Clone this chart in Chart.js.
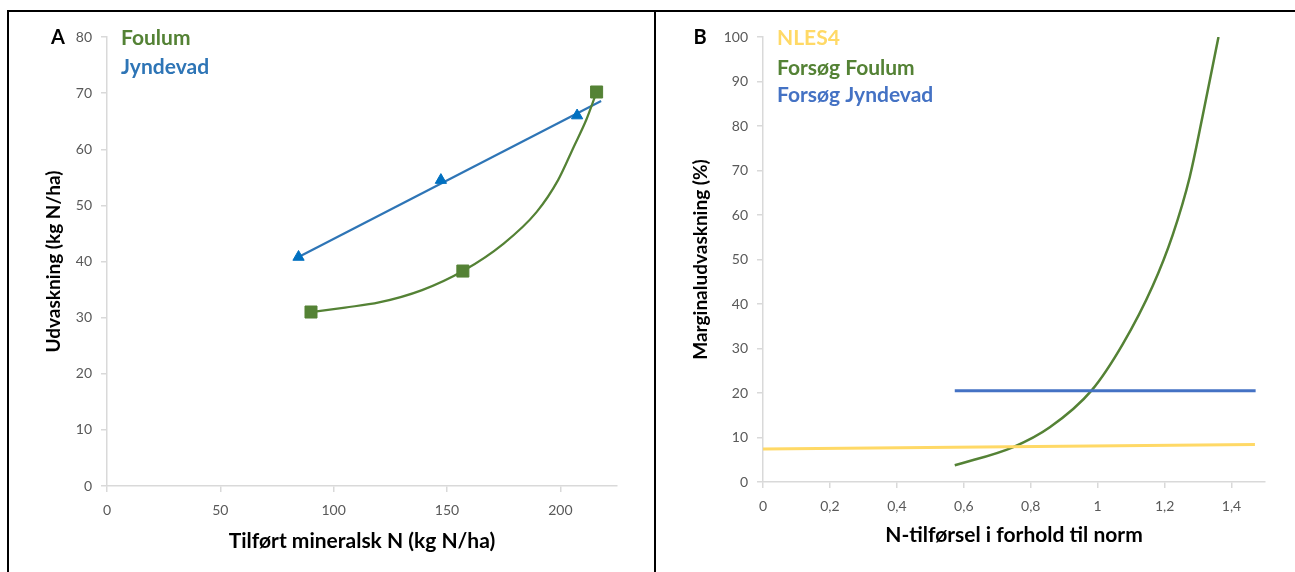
<!DOCTYPE html>
<html>
<head>
<meta charset="utf-8">
<script src="https://cdn.jsdelivr.net/npm/chart.js@4"></script>
<style>
  body { margin: 0; background: #fff; width: 1295px; height: 572px; overflow: hidden; position: relative; }
  .line { position: absolute; background: #000; }
  canvas { position: absolute; }
</style>
</head>
<body>
<div class="line" style="left:7px; top:10px; width:1288px; height:2px;"></div>
<div class="line" style="left:7px; top:10px; width:2px; height:562px;"></div>
<div class="line" style="left:654px; top:10px; width:2px; height:562px;"></div>
<canvas id="chartA" width="645" height="560" style="left:9px; top:12px;"></canvas>
<canvas id="chartB" width="639" height="560" style="left:656px; top:12px;"></canvas>
<script>
// panel A - udvaskning vs tilført N
var foulumX = [90, 157, 216];
var foulumY = [31.0, 38.3, 70.2];
// smoothed Foulum curve
var foulumCurveX = [90, 105, 120, 139, 157, 175, 189.5, 199, 206, 211.5, 216];
var foulumCurveY = [31.0, 31.8, 32.7, 34.9, 38.3, 43.2, 48.8, 54.5, 60.5, 65.3, 70.2];
var jyndevadX = [84.5, 147.3, 207.4];
var jyndevadY = [40.8, 54.5, 66.0];
var jyndevadTrendX = [84.5, 218];
var jyndevadTrendY = [40.8, 68.6];
var xTicksA = [0, 50, 100, 150, 200];
var yTicksA = [0, 10, 20, 30, 40, 50, 60, 70, 80];

// panel B - marginaludvaskning
var nlesX = [0, 1.47];
var nlesY = [7.4, 8.4];
var jyndevadBX = [0.573, 1.472];
var jyndevadBY = [20.5, 20.5];
var foulumBX = [0.573, 0.746, 0.857, 0.982, 1.075, 1.164, 1.224, 1.275, 1.313, 1.361];
var foulumBY = [3.75, 7.8, 12.3, 20.6, 31.0, 44.0, 55.5, 68.5, 82.0, 100];
var xTicksB = [0, 0.2, 0.4, 0.6, 0.8, 1, 1.2, 1.4];
var yTicksB = [0, 10, 20, 30, 40, 50, 60, 70, 80, 90, 100];

var FONT = "Lato, 'Open Sans', sans-serif";
var GREEN = '#548235';

function pts(xs, ys) {
    return xs.map(function(x, i) { return {x: x, y: ys[i]}; });
}

// draws the panel letter and the coloured legend words
var panelText = {
    id: 'panelText',
    afterDraw: function(chart, args, opts) {
        var ctx = chart.ctx;
        ctx.save();
        ctx.textBaseline = 'middle';
        ctx.font = 'bold 20px ' + FONT;
        ctx.fillStyle = '#000';
        ctx.textAlign = 'center';
        ctx.fillText(opts.letter, opts.letterX, opts.letterY);
        ctx.font = 'bold 21px ' + FONT;
        ctx.textAlign = 'left';
        opts.items.forEach(function(it) {
            ctx.fillStyle = it.color;
            ctx.fillText(it.text, it.x, it.y);
        });
        ctx.restore();
    }
};

function useTicks(values) {
    return function(s) { s.ticks = values.map(function(v) { return {value: v}; }); };
}

function yAxis(max, ticks, title, width, titlePad) {
    return {
        min: 0, max: max,
        afterFit: function(s) { s.width = width; },
        afterBuildTicks: useTicks(ticks),
        border: {color: '#D9D9D9', width: 1.5},
        grid: {drawOnChartArea: false, color: '#D9D9D9', tickLength: 6, lineWidth: 1.5},
        ticks: {color: '#595959', padding: 9, font: {family: FONT, size: 14}},
        title: {display: true, text: title, color: '#000', padding: {top: titlePad, bottom: 0},
                font: {family: FONT, size: 19, weight: 'bold'}}
    };
}

function xAxis(max, ticks, height, title, titlePad, fmt) {
    return {
        type: 'linear', min: 0, max: max,
        afterFit: function(s) { s.height = height; },
        afterBuildTicks: useTicks(ticks),
        border: {color: '#D9D9D9', width: 1.5},
        grid: {drawOnChartArea: false, color: '#D9D9D9', tickLength: 6, lineWidth: 1.5},
        ticks: {color: '#595959', padding: 10, maxRotation: 0, autoSkip: false, font: {family: FONT, size: 14},
                callback: fmt},
        title: {display: true, text: title, color: '#000', padding: {top: 0, bottom: titlePad},
                font: {family: FONT, size: 21, weight: 'bold'}}
    };
}

new Chart(document.getElementById('chartA'), {
    type: 'scatter',
    data: {
        datasets: [{
            label: 'Foulum',
            data: pts(foulumX, foulumY),
            showLine: false,
            pointStyle: 'rect', pointRadius: 8.5,
            pointBackgroundColor: GREEN, pointBorderColor: GREEN
        }, {
            label: 'Foulum kurve',
            data: pts(foulumCurveX, foulumCurveY),
            showLine: true,
            cubicInterpolationMode: 'monotone',
            borderColor: GREEN, borderWidth: 2.25,
            pointRadius: 0
        }, {
            label: 'Jyndevad',
            data: pts(jyndevadX, jyndevadY),
            showLine: false,
            pointStyle: 'triangle', pointRadius: 6.5,
            pointBackgroundColor: '#0070C0', pointBorderColor: '#0070C0'
        }, {
            label: 'Jyndevad trend',
            data: pts(jyndevadTrendX, jyndevadTrendY),
            showLine: true,
            borderColor: '#2E75B6', borderWidth: 2.25,
            pointRadius: 0
        }]
    },
    options: {
        responsive: false,
        animation: false,
        devicePixelRatio: 1,
        layout: {padding: {left: 0, top: 25, right: 37, bottom: 0}},
        scales: {
            x: xAxis(225, xTicksA, 86, 'Tilført mineralsk N (kg N/ha)', 18, function(v) { return v; }),
            y: yAxis(80, yTicksA, 'Udvaskning (kg N/ha)', 98, 33)
        },
        plugins: {
            legend: {display: false},
            tooltip: {enabled: false},
            panelText: {
                letter: 'A', letterX: 49, letterY: 26,
                items: [
                    {text: 'Foulum', color: GREEN, x: 112, y: 26},
                    {text: 'Jyndevad', color: '#2E75B6', x: 112, y: 55}
                ]
            }
        }
    },
    plugins: [panelText]
});

new Chart(document.getElementById('chartB'), {
    type: 'scatter',
    data: {
        datasets: [{
            label: 'NLES4',
            data: pts(nlesX, nlesY),
            showLine: true,
            borderColor: '#FFD966', borderWidth: 3,
            pointRadius: 0
        }, {
            label: 'Forsøg Jyndevad',
            data: pts(jyndevadBX, jyndevadBY),
            showLine: true,
            borderColor: '#4472C4', borderWidth: 3,
            pointRadius: 0
        }, {
            label: 'Forsøg Foulum',
            data: pts(foulumBX, foulumBY),
            showLine: true,
            cubicInterpolationMode: 'monotone',
            borderColor: GREEN, borderWidth: 2.5,
            pointRadius: 0
        }]
    },
    options: {
        responsive: false,
        animation: false,
        devicePixelRatio: 1,
        layout: {padding: {left: 0, top: 25, right: 30, bottom: 0}},
        scales: {
            x: xAxis(1.5, xTicksB, 90, 'N-tilførsel i forhold til norm', 24,
                function(v) { return String(Math.round(v * 10) / 10).replace('.', ','); }),
            y: yAxis(100, yTicksB, 'Marginaludvaskning (%)', 107, 33)
        },
        plugins: {
            legend: {display: false},
            tooltip: {enabled: false},
            panelText: {
                letter: 'B', letterX: 44, letterY: 26,
                items: [
                    {text: 'NLES4', color: '#FFD966', x: 121, y: 26},
                    {text: 'Forsøg Foulum', color: GREEN, x: 121, y: 56},
                    {text: 'Forsøg Jyndevad', color: '#4472C4', x: 121, y: 83}
                ]
            }
        }
    },
    plugins: [panelText]
});
</script>
</body>
</html>
